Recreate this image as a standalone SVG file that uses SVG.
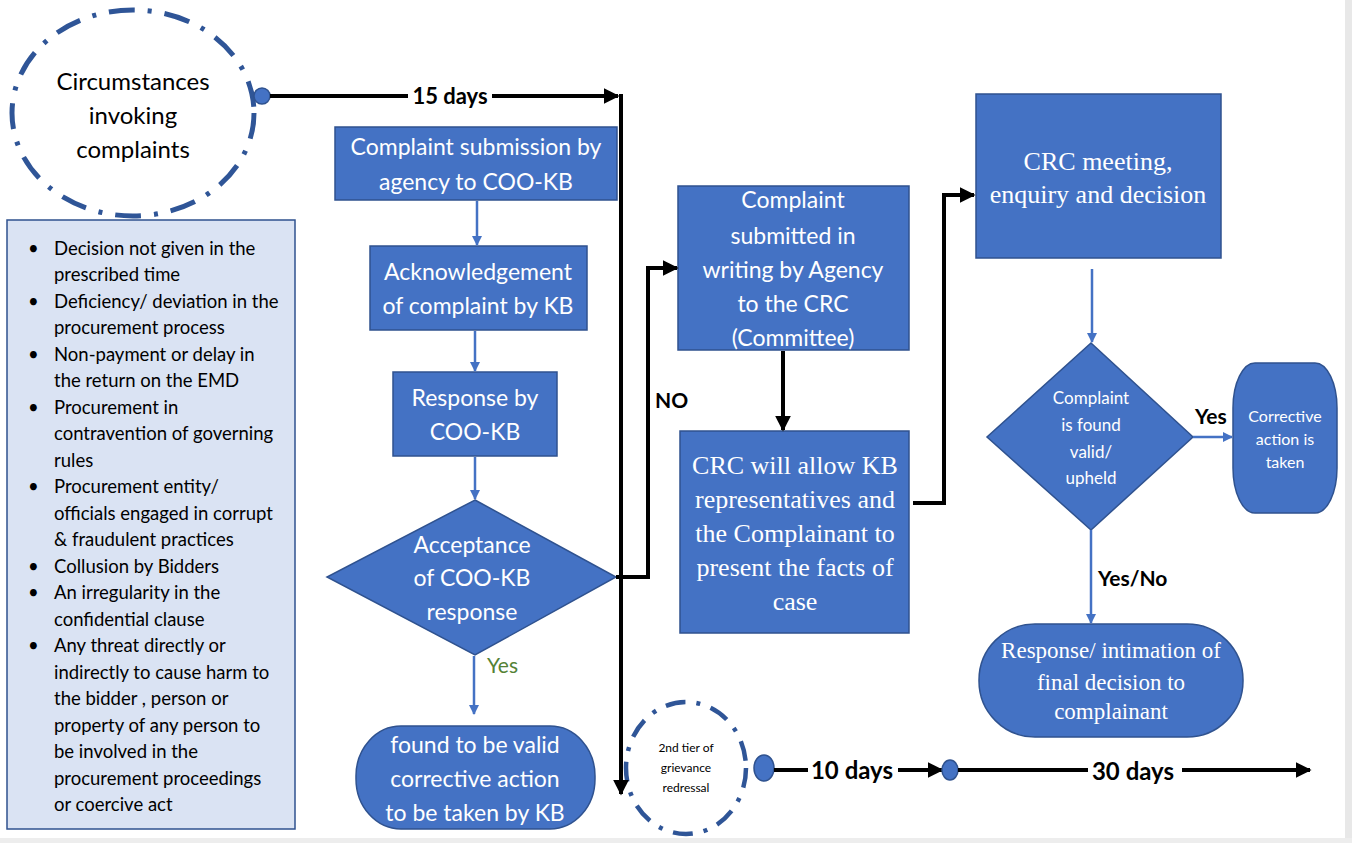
<svg xmlns="http://www.w3.org/2000/svg" width="1352" height="843" viewBox="0 0 1352 843">
<defs>
<style>
.box{fill:#4472C4;stroke:#2F528F;stroke-width:1.5}
.wt{fill:#fff;font-family:Lato,"Liberation Sans",sans-serif;text-anchor:middle}
.ws{fill:#fff;font-family:"Liberation Serif",serif;text-anchor:middle}
.lbl{fill:#000;font-family:Lato,"Liberation Sans",sans-serif;font-weight:bold}
.lt{fill:#000;font-family:Lato,"Liberation Sans",sans-serif;font-size:18.5px}
.dash{fill:none;stroke:#2F5597;stroke-width:5;stroke-dasharray:26 13 4 13}
.blk{fill:none;stroke:#000;stroke-width:4}
.blu{fill:none;stroke:#4472C4;stroke-width:2.5}
.dot{fill:#4472C4;stroke:#2F528F;stroke-width:1.5}
</style>
<marker id="ab" viewBox="0 0 10 10" refX="9" refY="5" markerWidth="4" markerHeight="4" orient="auto" markerUnits="strokeWidth"><path d="M0,0 L10,5 L0,10 z" fill="#000"/></marker>
<marker id="au" viewBox="0 0 10 10" refX="9" refY="5" markerWidth="4" markerHeight="4" orient="auto" markerUnits="strokeWidth"><path d="M0,0 L10,5 L0,10 z" fill="#4472C4"/></marker>
</defs>
<rect x="0" y="0" width="1352" height="843" fill="#fff"/>
<rect x="1345" y="0" width="7" height="843" fill="#E8E8E8"/>
<rect x="0" y="838" width="1352" height="5" fill="#EDEDED"/>

<g id="circumstances">
<ellipse class="dash" cx="133" cy="113" rx="121" ry="103"/>
<text class="lt" x="133" y="90" text-anchor="middle" style="font-size:24px">Circumstances</text>
<text class="lt" x="133" y="124" text-anchor="middle" style="font-size:24px">invoking</text>
<text class="lt" x="133" y="158" text-anchor="middle" style="font-size:24px">complaints</text>
</g>

<g id="list">
<rect x="7" y="220" width="288" height="609" fill="#DAE3F3" stroke="#2F528F" stroke-width="1.5"/>
<g class="lt">
<text x="28" y="255">•</text><text x="54" y="255">Decision not given in the</text>
<text x="54" y="281">prescribed time</text>
<text x="28" y="308">•</text><text x="54" y="308">Deficiency/ deviation in the</text>
<text x="54" y="334">procurement process</text>
<text x="28" y="361">•</text><text x="54" y="361">Non-payment or delay in</text>
<text x="54" y="387">the return on the EMD</text>
<text x="28" y="414">•</text><text x="54" y="414">Procurement in</text>
<text x="54" y="440">contravention of governing</text>
<text x="54" y="467">rules</text>
<text x="28" y="493">•</text><text x="54" y="493">Procurement entity/</text>
<text x="54" y="520">officials engaged in corrupt</text>
<text x="54" y="546">&amp; fraudulent practices</text>
<text x="28" y="573">•</text><text x="54" y="573">Collusion by Bidders</text>
<text x="28" y="599">•</text><text x="54" y="599">An irregularity in the</text>
<text x="54" y="626">confidential clause</text>
<text x="28" y="652">•</text><text x="54" y="652">Any  threat directly or</text>
<text x="54" y="679">indirectly to cause harm to</text>
<text x="54" y="705">the bidder , person or</text>
<text x="54" y="732">property of any person to</text>
<text x="54" y="758">be involved in the</text>
<text x="54" y="785">procurement proceedings</text>
<text x="54" y="811">or coercive act</text>
</g>
</g>

<g id="submission">
<rect class="box" x="335" y="127" width="282" height="73"/>
<text class="wt" x="476" y="155" font-size="23">Complaint submission by</text>
<text class="wt" x="476" y="190" font-size="23">agency to COO-KB</text>
</g>

<g id="acknowledgement">
<rect class="box" x="370" y="246" width="217" height="84"/>
<text class="wt" x="478" y="280" font-size="23">Acknowledgement</text>
<text class="wt" x="478" y="314" font-size="23">of complaint by KB</text>
</g>

<g id="response">
<rect class="box" x="393" y="372" width="164" height="84"/>
<text class="wt" x="475" y="406" font-size="23">Response by</text>
<text class="wt" x="475" y="440" font-size="23">COO-KB</text>
</g>

<g id="acceptance">
<polygon class="box" points="475,500 616,577 475,655 327,577"/>
<text class="wt" x="472" y="553" font-size="23">Acceptance</text>
<text class="wt" x="472" y="586" font-size="23">of COO-KB</text>
<text class="wt" x="472" y="620" font-size="23">response</text>
</g>

<g id="valid">
<rect class="box" x="356" y="726" width="239" height="103" rx="45" ry="50"/>
<text class="wt" x="475" y="753" font-size="23">found to be valid</text>
<text class="wt" x="475" y="787" font-size="23">corrective action</text>
<text class="wt" x="475" y="821" font-size="23">to be taken by KB</text>
</g>

<g id="crc-submitted">
<rect class="box" x="678" y="186" width="231" height="164"/>
<text class="wt" x="793" y="208" font-size="23">Complaint</text>
<text class="wt" x="793" y="244" font-size="23">submitted in</text>
<text class="wt" x="793" y="278" font-size="23">writing by Agency</text>
<text class="wt" x="793" y="312" font-size="23">to the CRC</text>
<text class="wt" x="793" y="346" font-size="23">(Committee)</text>
</g>

<g id="crc-allow">
<rect class="box" x="680" y="431" width="229" height="202"/>
<text class="ws" x="795" y="474" font-size="26">CRC will allow KB</text>
<text class="ws" x="795" y="508" font-size="26">representatives and</text>
<text class="ws" x="795" y="542" font-size="26">the Complainant to</text>
<text class="ws" x="795" y="576" font-size="26">present the facts of</text>
<text class="ws" x="795" y="610" font-size="26">case</text>
</g>

<g id="crc-meeting">
<rect class="box" x="976" y="94" width="245" height="164"/>
<text class="ws" x="1098" y="170" font-size="26">CRC meeting,</text>
<text class="ws" x="1098" y="203" font-size="26">enquiry and decision</text>
</g>

<g id="found-valid">
<polygon class="box" points="1091,343 1193,437 1091,530 987,437"/>
<text class="wt" x="1091" y="404" font-size="17">Complaint</text>
<text class="wt" x="1091" y="431" font-size="17">is found</text>
<text class="wt" x="1091" y="458" font-size="17">valid/</text>
<text class="wt" x="1091" y="484" font-size="17">upheld</text>
</g>

<g id="corrective">
<rect class="box" x="1233" y="363" width="104" height="150" rx="22" ry="45"/>
<text class="wt" x="1285" y="422" font-size="16">Corrective</text>
<text class="wt" x="1285" y="445" font-size="16">action is</text>
<text class="wt" x="1285" y="468" font-size="16">taken</text>
</g>

<g id="final-response">
<rect class="box" x="979" y="624" width="264" height="113" rx="56" ry="56"/>
<text class="ws" x="1111" y="658" font-size="23">Response/ intimation of</text>
<text class="ws" x="1111" y="690" font-size="23">final decision to</text>
<text class="ws" x="1111" y="719" font-size="23">complainant</text>
</g>

<g id="second-tier">
<ellipse class="dash" cx="686" cy="768" rx="60" ry="66" style="stroke-width:4.5;stroke-dasharray:20 11 4 11"/>
<text x="686" y="752" font-family="Lato,sans-serif" font-size="12" fill="#000" text-anchor="middle">2nd tier of</text>
<text x="686" y="772" font-family="Lato,sans-serif" font-size="12" fill="#000" text-anchor="middle">grievance</text>
<text x="686" y="792" font-family="Lato,sans-serif" font-size="12" fill="#000" text-anchor="middle">redressal</text>
</g>

<g id="connectors">
<ellipse class="dot" cx="262" cy="96" rx="8" ry="8"/>
<line class="blk" x1="270" y1="96" x2="408" y2="96"/>
<line class="blk" x1="492" y1="96" x2="618" y2="96" marker-end="url(#ab)"/>
<text class="lbl" x="450" y="104" font-size="22" text-anchor="middle">15 days</text>
<line class="blk" x1="621" y1="94" x2="621" y2="794" marker-end="url(#ab)"/>

<line class="blu" x1="477" y1="201" x2="477" y2="245" marker-end="url(#au)"/>
<line class="blu" x1="475" y1="331" x2="475" y2="371" marker-end="url(#au)"/>
<line class="blu" x1="475" y1="457" x2="475" y2="499" marker-end="url(#au)"/>
<line class="blu" x1="474" y1="656" x2="474" y2="714" marker-end="url(#au)"/>
<text x="487" y="673" font-family="Lato,'Liberation Sans',sans-serif" font-size="21" fill="#548235">Yes</text>

<polyline class="blk" points="616,577 648,577 648,268 677,268" marker-end="url(#ab)"/>
<text class="lbl" x="655" y="408" font-size="21">NO</text>
<line class="blk" x1="783" y1="351" x2="783" y2="430" marker-end="url(#ab)"/>
<polyline class="blk" points="913,503 944,503 944,195 974,195" marker-end="url(#ab)"/>

<line class="blu" x1="1092" y1="269" x2="1092" y2="342" marker-end="url(#au)"/>
<line class="blu" x1="1193" y1="437" x2="1232" y2="437" marker-end="url(#au)"/>
<text class="lbl" x="1195" y="424" font-size="21">Yes</text>
<line class="blu" x1="1091" y1="530" x2="1091" y2="623" marker-end="url(#au)"/>
<text class="lbl" x="1098" y="586" font-size="21">Yes/No</text>

<ellipse class="dot" cx="764" cy="768" rx="10" ry="13"/>
<line class="blk" x1="774" y1="770" x2="808" y2="770"/>
<text class="lbl" x="852" y="779" font-size="24" text-anchor="middle">10 days</text>
<line class="blk" x1="898" y1="770" x2="942" y2="770" marker-end="url(#ab)"/>
<ellipse class="dot" cx="950" cy="770" rx="8" ry="10"/>
<line class="blk" x1="958" y1="770" x2="1088" y2="770"/>
<text class="lbl" x="1133" y="780" font-size="24" text-anchor="middle">30 days</text>
<line class="blk" x1="1182" y1="770" x2="1310" y2="770" marker-end="url(#ab)"/>
</g>
</svg>
